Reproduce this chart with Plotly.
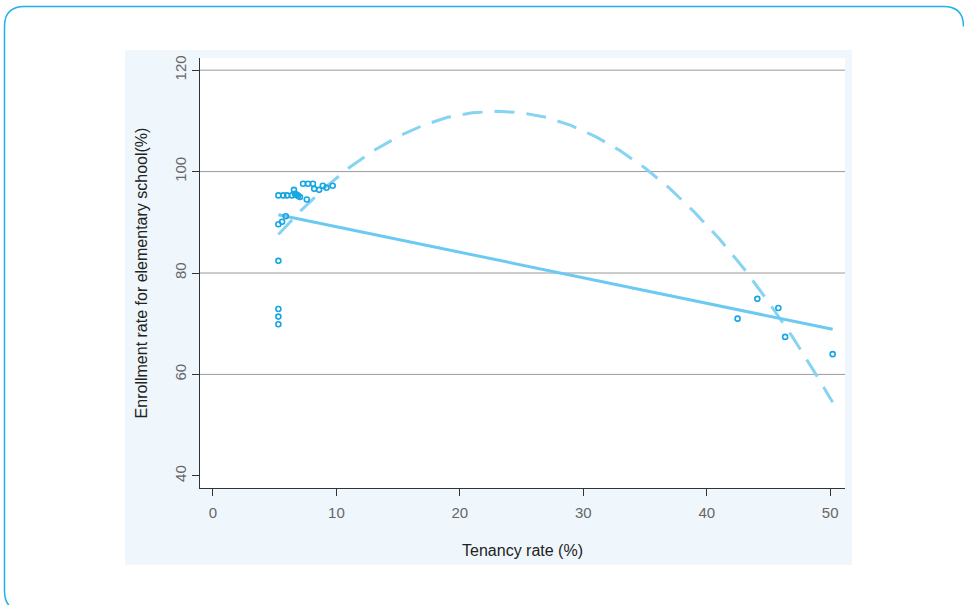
import plotly.graph_objects as go

# Scatter data (tenancy rate %, enrollment rate %)
tenancy = [5.3, 5.7, 6.0, 6.4, 6.56, 6.65, 6.8, 6.9, 7.05, 7.6, 7.3, 7.7, 8.1, 8.2, 8.6, 8.9, 9.2, 9.7,
           5.9, 5.6, 5.3, 5.3, 5.3, 5.3, 5.3, 42.5, 44.1, 45.8, 46.35, 50.2]
enrollment = [95.3, 95.3, 95.3, 95.3, 96.4, 95.6, 95.4, 95.2, 95.0, 94.5, 97.6, 97.6, 97.6, 96.6, 96.4, 97.2, 96.8, 97.2,
              91.2, 90.1, 89.6, 82.4, 72.9, 71.4, 69.9, 71.0, 74.9, 73.1, 67.4, 64.0]

# Linear fit line
lin_x = [5.3, 50.2]
lin_y = [91.5, 68.9]

# Quadratic fit curve
quad_x = [5.3, 7, 9, 11, 13, 15, 17, 19, 21, 23, 25, 27, 29, 31, 33, 35, 37, 39, 41, 43, 45, 47, 49, 50.2]
quad_y = [87.6, 92.0, 96.7, 100.7, 104.1, 106.9, 109.1, 110.7, 111.6, 111.9, 111.6, 110.7, 109.1, 106.9,
          104.1, 100.7, 96.7, 92.0, 86.8, 80.9, 74.3, 67.2, 59.4, 54.5]

x_ticks = [0, 10, 20, 30, 40, 50]
y_ticks = [40, 60, 80, 100, 120]
grid_vals = [60, 80, 100, 120]

W, H = 964, 605
L, R, T, B = 200, 845, 58, 488
pw, ph = R - L, B - T


def px(x):
    return (x - L) / pw


def py(y):
    return (B - y) / ph


fig = go.Figure()

fig.add_trace(go.Scatter(x=quad_x, y=quad_y, mode="lines",
                         line=dict(color="#86d3f2", width=3, dash="20px,12px"),
                         hoverinfo="skip", showlegend=False))
fig.add_trace(go.Scatter(x=lin_x, y=lin_y, mode="lines",
                         line=dict(color="#6ccaf2", width=3),
                         hoverinfo="skip", showlegend=False))
fig.add_trace(go.Scatter(x=tenancy, y=enrollment, mode="markers",
                         marker=dict(symbol="circle-open", size=5, color="#16a6e4",
                                     line=dict(width=1.6, color="#16a6e4")),
                         showlegend=False))

shapes = []
# light blue panel
shapes.append(dict(type="rect", xref="paper", yref="paper", layer="below",
                   x0=px(125), x1=px(852), y0=py(565), y1=py(50),
                   fillcolor="#eff7fc", line=dict(width=0)))
# white plot area
shapes.append(dict(type="rect", xref="paper", yref="paper", layer="below",
                   x0=0, x1=1, y0=0, y1=1, fillcolor="white", line=dict(width=0)))
# rounded outer border
r = 20
x0b, y0b, x1b, y1b = 4.5, 6.5, 963.5, 611
path = (f"M {px(x0b)},{py(y1b - r)} L {px(x0b)},{py(y0b + r)} "
        f"Q {px(x0b)},{py(y0b)} {px(x0b + r)},{py(y0b)} "
        f"L {px(x1b - r)},{py(y0b)} Q {px(x1b)},{py(y0b)} {px(x1b)},{py(y0b + r)} "
        f"M {px(x0b)},{py(y1b - r)} Q {px(x0b)},{py(y1b)} {px(x0b + r)},{py(y1b)}")
shapes.append(dict(type="path", xref="paper", yref="paper", path=path,
                   line=dict(color="#1fb2ea", width=1.5)))
# gridlines
for g in grid_vals:
    shapes.append(dict(type="line", xref="paper", yref="y", x0=0, x1=1, y0=g, y1=g,
                       layer="below", line=dict(color="#9a9a9a", width=1)))

fig.update_layout(
    width=W, height=H,
    margin=dict(l=L, r=W - R, t=T, b=H - B),
    paper_bgcolor="white", plot_bgcolor="rgba(0,0,0,0)",
    font=dict(family="Arial, Liberation Sans, sans-serif", color="#222"),
    shapes=shapes,
    xaxis=dict(range=[-1.05, 51.2], tickvals=x_ticks, ticks="outside", ticklen=7,
               tickcolor="#333", showline=True, linecolor="#333", linewidth=1.2,
               showgrid=False, zeroline=False, ticklabelstandoff=4,
               tickfont=dict(size=15, color="#666"),
               title=dict(text="Tenancy rate (%)", font=dict(size=16, color="#222"), standoff=24)),
    yaxis=dict(range=[37.6, 122.4], tickvals=y_ticks, ticks="outside", ticklen=7,
               tickcolor="#333", showline=True, linecolor="#333", linewidth=1.2,
               showgrid=False, zeroline=False, tickangle=-90,
               tickfont=dict(size=15, color="#666"),
               title=dict(text="Enrollment rate for elementary school(%)",
                          font=dict(size=16, color="#222"), standoff=20)),
)

fig.write_html("out.html")
